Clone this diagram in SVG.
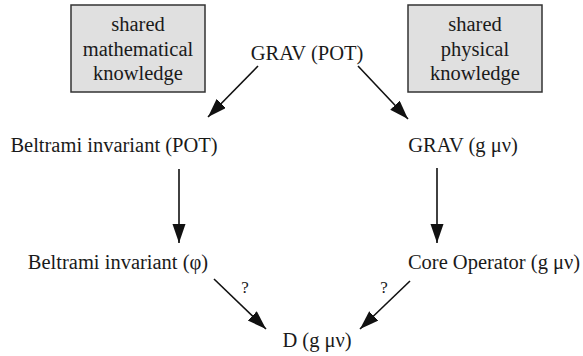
<svg xmlns="http://www.w3.org/2000/svg" width="583" height="356" viewBox="0 0 583 356">
<defs>
<marker id="ah" markerUnits="userSpaceOnUse" markerWidth="20" markerHeight="14" refX="19" refY="6.5" orient="auto">
<path d="M0,0 L19,6.5 L0,13 Z" fill="#111"/>
</marker>
</defs>
<style>
text { font-family: "Liberation Serif", "Times New Roman", serif; font-size: 20.5px; fill: #1a1a1a; text-anchor: middle; }
.box { fill: #e0e0e0; stroke: #333; stroke-width: 1.5; }
.edge { stroke: #111; stroke-width: 1.6; fill: none; marker-end: url(#ah); }
.q { font-size: 17px; }
</style>
<rect width="583" height="356" fill="#fff"/>
<g id="math-knowledge">
<rect class="box" x="71" y="5" width="134" height="87"/>
<text x="138" y="31">shared</text>
<text x="138" y="56">mathematical</text>
<text x="138" y="80">knowledge</text>
</g>
<g id="phys-knowledge">
<rect class="box" x="408" y="5" width="134" height="87"/>
<text x="475" y="31">shared</text>
<text x="475" y="56">physical</text>
<text x="475" y="80">knowledge</text>
</g>
<g id="grav-pot"><text x="307" y="60">GRAV (POT)</text></g>
<g id="beltrami-pot"><text x="114" y="152">Beltrami invariant (POT)</text></g>
<g id="grav-gmunu"><text x="463" y="152">GRAV (g μν)</text></g>
<g id="beltrami-phi"><text x="118" y="269">Beltrami invariant (φ)</text></g>
<g id="core-op"><text x="494" y="269">Core Operator (g μν)</text></g>
<g id="d-gmunu"><text x="317" y="347">D (g μν)</text></g>
<g id="connectors">
<line class="edge" x1="258" y1="66" x2="208" y2="117"/>
<line class="edge" x1="358" y1="66" x2="408" y2="119"/>
<line class="edge" x1="179" y1="169" x2="179" y2="243"/>
<line class="edge" x1="437" y1="168" x2="437" y2="243"/>
<line class="edge" x1="214" y1="279" x2="266" y2="329"/>
<line class="edge" x1="410" y1="281" x2="360" y2="329"/>
<text class="q" x="245" y="293">?</text>
<text class="q" x="384" y="293">?</text>
</g>
</svg>
